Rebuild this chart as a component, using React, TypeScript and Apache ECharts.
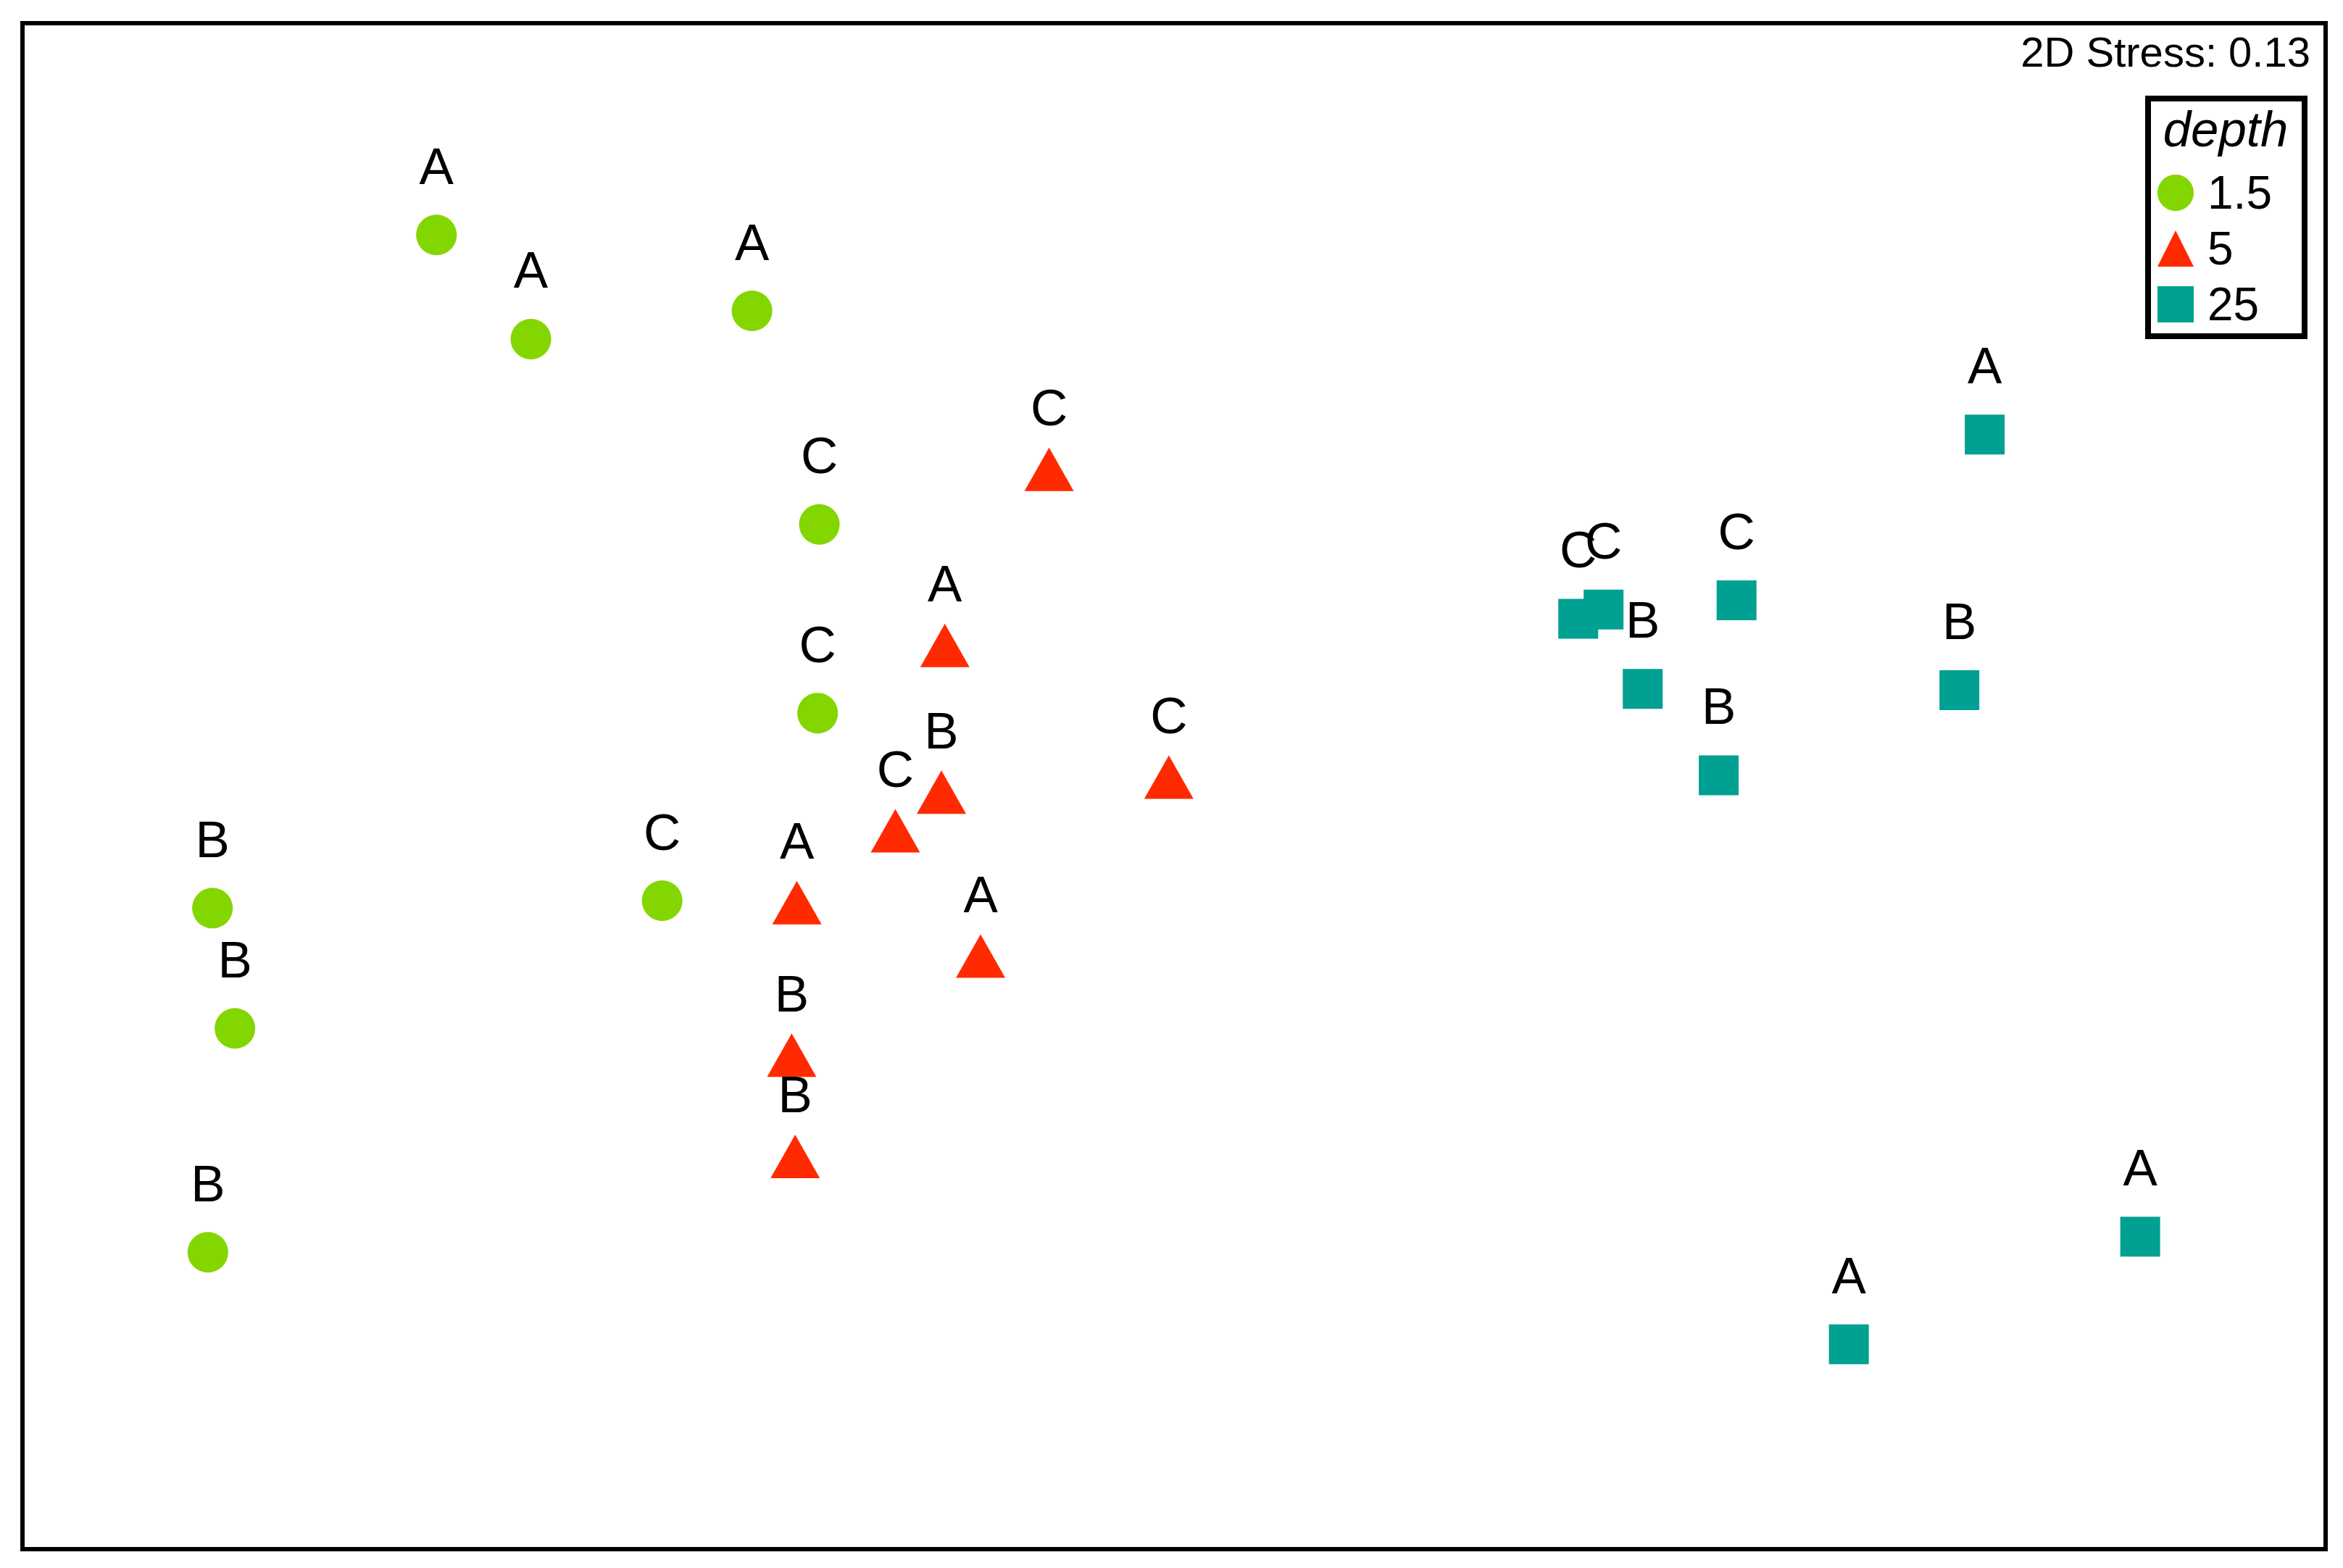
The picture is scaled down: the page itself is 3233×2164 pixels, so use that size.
import React, { useEffect, useRef } from "react";
import * as echarts from "echarts";

const FONT = '"Liberation Sans", Arial, Helvetica, sans-serif';

// NMDS coordinates (arbitrary ordination units)
const depthNames = ["1.5", "5", "25"];
const depthColors = ["#84D600", "#FF2A00", "#00A093"];

const labels15 = ["A", "A", "A", "C", "C", "C", "B", "B", "B"];
const x15 = [-1.281, -1.117, -0.733, -0.616, -0.619, -0.889, -1.67, -1.631, -1.678];
const y15 = [0.958, 0.777, 0.826, 0.455, 0.127, -0.199, -0.212, -0.421, -0.81];

const labels5 = ["C", "A", "B", "C", "C", "A", "A", "B", "B"];
const x5 = [-0.217, -0.398, -0.404, -0.484, -0.009, -0.655, -0.336, -0.664, -0.658];
const y5 = [0.538, 0.232, -0.023, -0.09, 0.003, -0.215, -0.308, -0.48, -0.656];

const labels25 = ["A", "C", "C", "C", "B", "B", "B", "A", "A"];
const x25 = [1.408, 0.977, 0.702, 0.746, 0.814, 0.946, 1.364, 1.678, 1.172];
const y25 = [0.611, 0.323, 0.291, 0.307, 0.169, 0.019, 0.167, -0.783, -0.97];

const stressText = "2D Stress: 0.13";
const legendTitle = "depth";

function build(xs: number[], ys: number[], labels: string[]) {
  return xs.map((x, i) => ({ value: [x, ys[i]], name: labels[i] }));
}

export default function App() {
  const ref = useRef<HTMLDivElement>(null);
  useEffect(() => {
    if (!ref.current) return;
    const chart = echarts.init(ref.current, undefined, { renderer: "svg" });
    const labelBase = {
      show: true,
      position: "inside",
      formatter: (p: any) => p.name,
      color: "#000",
      fontFamily: FONT,
      fontSize: 71,
    };
    chart.setOption({
      animation: false,
      backgroundColor: "#fff",
      grid: {
        show: true,
        left: 31,
        right: 24,
        top: 32,
        bottom: 26,
        borderColor: "#000",
        borderWidth: 6,
        backgroundColor: "transparent",
      },
      xAxis: { type: "value", min: -2, max: 2, show: false },
      yAxis: { type: "value", min: -1.326, max: 1.326, show: false },
      legend: {
        orient: "vertical",
        left: 2964,
        top: 136,
        padding: [98, 45, 12, 13],
        itemWidth: 50,
        itemHeight: 50,
        itemGap: 13,
        selectedMode: false,
        borderColor: "#000",
        borderWidth: 8,
        textStyle: {
          fontSize: 64,
          lineHeight: 62,
          color: "#000",
          fontFamily: FONT,
          padding: [0, 0, 0, 14],
        },
        data: [
          { name: depthNames[0], icon: "circle" },
          { name: depthNames[1], icon: "triangle" },
          { name: depthNames[2], icon: "rect" },
        ],
      },
      graphic: [
        {
          type: "text",
          x: 3188,
          y: 71,
          style: {
            text: stressText,
            fontSize: 58,
            fontFamily: FONT,
            fill: "#000",
            align: "right",
            verticalAlign: "middle",
          },
        },
        {
          type: "text",
          x: 3071,
          y: 178,
          z: 100,
          style: {
            text: legendTitle,
            fontSize: 69,
            fontStyle: "italic",
            fontFamily: FONT,
            fill: "#000",
            align: "center",
            verticalAlign: "middle",
          },
        },
      ],
      series: [
        {
          name: depthNames[0],
          type: "scatter",
          symbol: "circle",
          symbolSize: 56,
          itemStyle: { color: depthColors[0], opacity: 1 },
          label: { ...labelBase, offset: [0, -95] },
          data: build(x15, y15, labels15),
        },
        {
          name: depthNames[1],
          type: "scatter",
          symbol: "triangle",
          symbolSize: [68, 60],
          symbolOffset: [0, -10],
          itemStyle: { color: depthColors[1], opacity: 1 },
          label: { ...labelBase, offset: [0, -85] },
          data: build(x5, y5, labels5),
        },
        {
          name: depthNames[2],
          type: "scatter",
          symbol: "rect",
          symbolSize: 55,
          itemStyle: { color: depthColors[2], opacity: 1 },
          label: { ...labelBase, offset: [0, -95] },
          data: build(x25, y25, labels25),
        },
      ],
    });
    return () => chart.dispose();
  }, []);
  return (
    <div
      ref={ref}
      style={{ position: "fixed", left: 0, top: 0, width: 3233, height: 2164, background: "#fff" }}
    />
  );
}
